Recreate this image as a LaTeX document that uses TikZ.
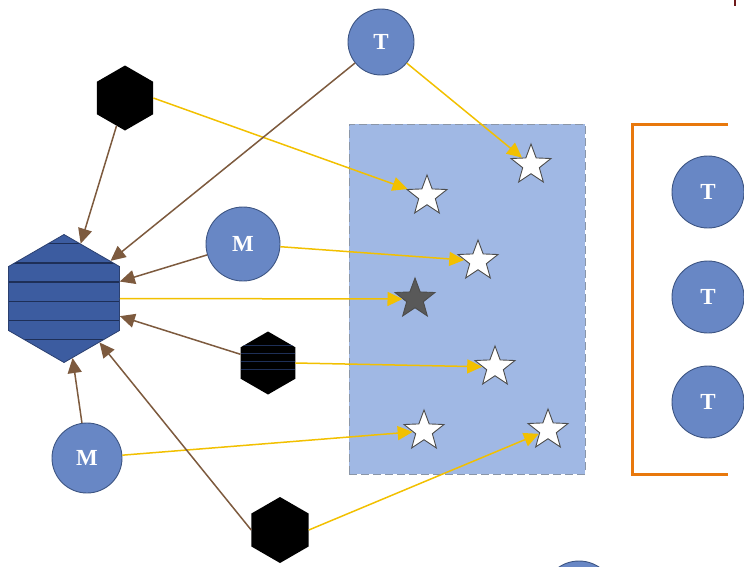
\documentclass[tikz,border=0pt]{standalone}
\usepackage{fontspec}
\setmainfont{Liberation Serif}
\usetikzlibrary{arrows.meta, shapes.geometric}
\definecolor{nodeblue}{HTML}{6887C5}
\definecolor{circedge}{HTML}{3D5583}
\definecolor{hexblue}{HTML}{3C5CA0}
\definecolor{hexedge}{HTML}{2B4070}
\definecolor{stripeblue}{HTML}{1E2F57}
\definecolor{panelblue}{HTML}{A0B8E4}
\definecolor{paneledge}{HTML}{8A96A8}
\definecolor{arrowyellow}{HTML}{F2C000}
\definecolor{arrowbrown}{HTML}{7D5A3E}
\definecolor{bracketorange}{HTML}{E8780C}
\definecolor{markred}{HTML}{6E1A1A}

\begin{document}
\begin{tikzpicture}[
  x=1pt, y=-1pt,
  circ/.style={circle, draw=circedge, line width=0.9pt, fill=nodeblue,
               text=white, font=\fontsize{23}{26}\selectfont\bfseries,
               minimum size=70pt, inner sep=0pt},
  hexa/.style={regular polygon, regular polygon sides=6,
               shape border rotate=30, fill=black, inner sep=0pt,
               minimum size=65pt},
  panel/.style={rectangle, fill=panelblue, draw=paneledge, line width=1pt,
                dash pattern=on 8pt off 4pt,
                minimum width=236pt, minimum height=350pt},
  wstar/.style={star, star points=5, star point ratio=2.4, inner sep=0pt,
                minimum size=42pt, fill=white, draw=black!70, line width=0.9pt},
  yarr/.style={-{Triangle[length=15pt,width=14pt]}, line width=1.5pt,
               draw=arrowyellow},
  barr/.style={-{Triangle[length=15pt,width=14pt]}, line width=1.5pt,
               draw=arrowbrown}
]
\useasboundingbox (0,0) rectangle (744,566);
\clip (0,0) rectangle (744,566);

% panel with the stars
\node[panel] (P) at (467,299) {};
\node[wstar] (S1) at (427,196) {};
\node[wstar] (S2) at (531,165) {};
\node[wstar] (S3) at (478,261) {};
\node[wstar, fill=black!65] (S0) at (415,299) {};
\node[wstar] (S4) at (495,367) {};
\node[wstar] (S5) at (424,431) {};
\node[wstar] (S6) at (548,430) {};

% bracket on the right
\draw[bracketorange, line width=3pt] (728,124) -| (632,474) -- (728,474);

% circles
\node[circ, minimum size=66pt] (Ttop) at (381,42) {T};
\node[circ, minimum size=74pt] (Mmid) at (243,244) {M};
\node[circ] (Mbot) at (87,458) {M};
\node[circ, minimum size=72pt] (Tr1) at (708,192) {T};
\node[circ, minimum size=72pt] (Tr2) at (708,297) {T};
\node[circ, minimum size=72pt] (Tr3) at (708,402) {T};
\node[circ, minimum size=72pt] (Tcut) at (579,597) {};

% hexagons
\node[hexa, fill=hexblue, draw=hexedge, line width=0.8pt, minimum size=128pt,
      path picture={\foreach \s in {55,35.5,16.5,-3,-22,-41}
        \draw[stripeblue, line width=1.3pt]
          ([yshift=\s pt]path picture bounding box.west) --
          ([yshift=\s pt]path picture bounding box.east);}]
      (Hbig) at (64,298.5) {};
\node[hexa] (Htop) at (125,98) {};
\node[hexa, minimum size=63pt,
      path picture={\foreach \s in {18,10,2,-6}
        \draw[stripeblue, line width=0.7pt]
          ([yshift=\s pt]path picture bounding box.west) --
          ([yshift=\s pt]path picture bounding box.east);}]
      (Hmid) at (268,363) {};
\node[hexa, minimum size=66pt] (Hbot) at (280,530) {};

% yellow arrows into the panel
\draw[yarr] (Htop.east) -- (S1);
\draw[yarr] (Ttop) -- (S2);
\draw[yarr] (Mmid) -- (S3);
\draw[yarr] (Hbig.east) -- (S0);
\draw[yarr] (Hmid.east) -- (S4);
\draw[yarr] (Mbot) -- (S5);
\draw[yarr] (Hbot.east) -- (S6);

% brown arrows into the big hexagon
\draw[barr] (Htop) -- (Hbig);
\draw[barr] (Ttop) -- (Hbig);
\draw[barr] (Mmid) -- (Hbig);
\draw[barr] (Hmid) -- (Hbig);
\draw[barr] (Mbot) -- (Hbig);
\draw[barr] (Hbot.west) -- (Hbig);

% cut-off mark, top right
\draw[markred, line width=2pt] (735,0) -- (735,6);
\end{tikzpicture}
\end{document}
